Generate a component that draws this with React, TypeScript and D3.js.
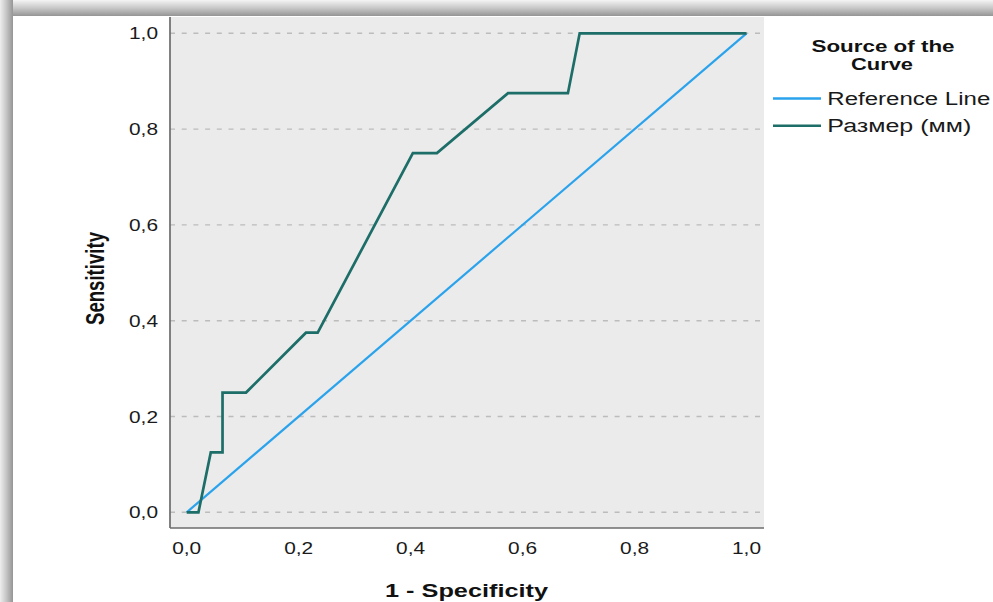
import React from "react";
import * as d3 from "d3";

const rocX = [0, 0.021, 0.043, 0.064, 0.064, 0.106, 0.213, 0.234, 0.404, 0.447, 0.574, 0.681, 0.702, 1.0];
const rocY = [0, 0, 0.125, 0.125, 0.25, 0.25, 0.375, 0.375, 0.75, 0.75, 0.875, 0.875, 1.0, 1.0];
const refX = [0, 1];
const refY = [0, 1];
const ticks = [0, 0.2, 0.4, 0.6, 0.8, 1.0];
const tickLabels = ["0,0", "0,2", "0,4", "0,6", "0,8", "1,0"];
const legendLabels = ["Reference Line", "Размер (мм)"];

const W = 993, H = 602;
const plotL = 170, plotR = 764, plotT = 17, plotB = 528;
const x = d3.scaleLinear().domain([0, 1]).range([186.7, 746.5]);
const y = d3.scaleLinear().domain([0, 1]).range([512.3, 33.3]);
const BLUE = "#2aa3ec";
const TEAL = "#1d6e68";
const FONT = "'Liberation Sans', Arial, sans-serif";

export default function App() {
  const line = d3.line<[number, number]>().x(d => x(d[0])).y(d => y(d[1]));
  const rocPts = rocX.map((v, i) => [v, rocY[i]] as [number, number]);
  const refPts = refX.map((v, i) => [v, refY[i]] as [number, number]);
  const stretch = 1.31;
  return (
    <svg width={W} height={H} style={{ position: "absolute", left: 0, top: 0, background: "#fff" }} fontFamily={FONT}>
      <defs>
        <linearGradient id="gt" x1="0" y1="0" x2="0" y2="1">
          <stop offset="0" stopColor="#f4f4f4" />
          <stop offset="0.5" stopColor="#c8c8c8" />
          <stop offset="1" stopColor="#959595" />
        </linearGradient>
        <linearGradient id="gl" x1="0" y1="0" x2="1" y2="0">
          <stop offset="0" stopColor="#eeeeee" />
          <stop offset="0.5" stopColor="#c4c4c4" />
          <stop offset="1" stopColor="#959595" />
        </linearGradient>
      </defs>
      <rect x={0} y={0} width={W} height={H} fill="#fff" />
      <rect x={0} y={0} width={W} height={16} fill="url(#gt)" />
      <rect x={0} y={0} width={13} height={H} fill="url(#gl)" />
      <rect x={plotL} y={plotT} width={plotR - plotL} height={plotB - plotT} fill="#ebebeb" />
      {ticks.map((t, i) => (
        <line key={"g" + i} x1={plotL} x2={plotR} y1={y(t)} y2={y(t)} stroke="#bcbcbc" strokeWidth={1.4} strokeDasharray="5,6.7" />
      ))}
      <line x1={plotL} x2={plotL} y1={plotT} y2={plotB} stroke="#6c6c6c" strokeWidth={1.7} />
      <line x1={plotL} x2={plotR} y1={plotB} y2={plotB} stroke="#6c6c6c" strokeWidth={1.7} />
      {ticks.map((t, i) => (
        <text key={"yt" + i} x={158} y={y(t) + 6} textAnchor="end" fontSize={16.5} fill="#1a1a1a"
          textLength={29} lengthAdjust="spacingAndGlyphs">{tickLabels[i]}</text>
      ))}
      {ticks.map((t, i) => (
        <text key={"xt" + i} x={x(t)} y={554} textAnchor="middle" fontSize={16.5} fill="#1a1a1a"
          textLength={29} lengthAdjust="spacingAndGlyphs">{tickLabels[i]}</text>
      ))}
      <path d={line(refPts) || ""} fill="none" stroke={BLUE} strokeWidth={2.2} />
      <path d={line(rocPts) || ""} fill="none" stroke={TEAL} strokeWidth={2.7} strokeLinejoin="miter" />
      <text x={466.5} y={597} textAnchor="middle" fontSize={19} fontWeight="bold" fill="#111"
        textLength={163} lengthAdjust="spacingAndGlyphs">1 - Specificity</text>
      <text transform={`translate(104,278.5) rotate(-90) scale(1,${stretch})`} textAnchor="middle" fontSize={19} fontWeight="bold" fill="#111"
        x={0} y={0} textLength={93} lengthAdjust="spacingAndGlyphs">Sensitivity</text>
      <text x={883} y={52} textAnchor="middle" fontSize={17} fontWeight="bold" fill="#111"
        textLength={143} lengthAdjust="spacingAndGlyphs">Source of the</text>
      <text x={882} y={70} textAnchor="middle" fontSize={17} fontWeight="bold" fill="#111"
        textLength={62} lengthAdjust="spacingAndGlyphs">Curve</text>
      {legendLabels.map((l, i) => (
        <g key={"lg" + i}>
          <line x1={773} x2={821} y1={98.5 + i * 27.3} y2={98.5 + i * 27.3} stroke={i === 0 ? BLUE : TEAL} strokeWidth={2.4} />
          <text x={827.3} y={105 + i * 27.3} fontSize={18} fill="#1a1a1a"
            textLength={i === 0 ? 163 : 144} lengthAdjust="spacingAndGlyphs">{l}</text>
        </g>
      ))}
    </svg>
  );
}
